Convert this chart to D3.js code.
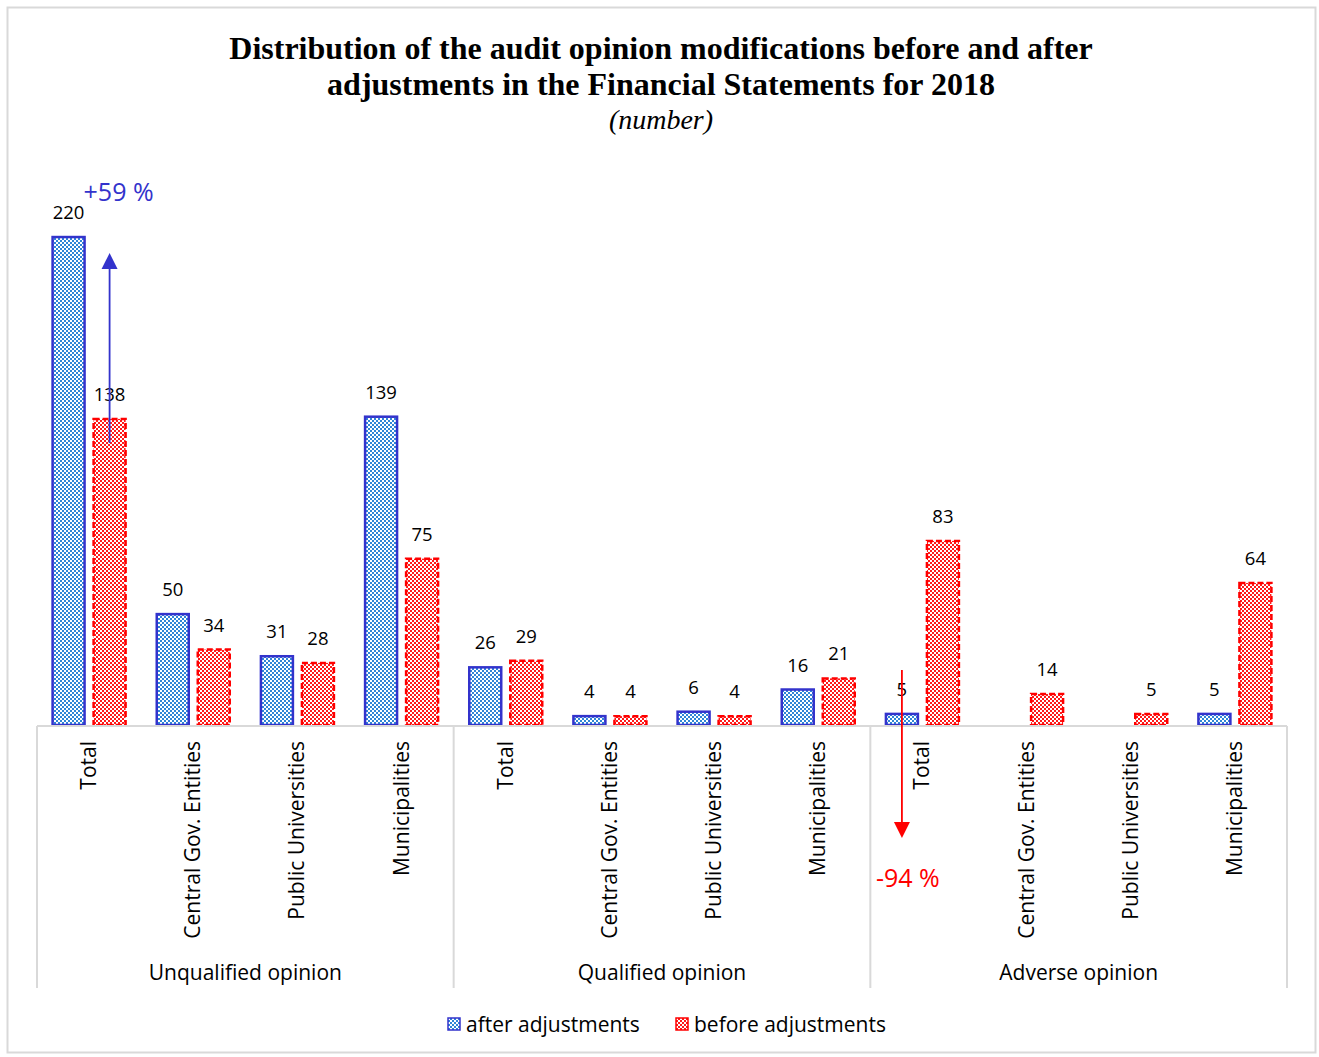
<!DOCTYPE html>
<html>
<head>
<meta charset="utf-8">
<script src="https://cdn.jsdelivr.net/npm/d3@7"></script>
<style>
  html, body { margin: 0; padding: 0; background: #fff; }
  svg { display: block; }
</style>
</head>
<body>
<svg id="chart" width="1319" height="1057"></svg>
<script>
// Audit opinion groups and entity categories
const groups = ["Unqualified opinion", "Qualified opinion", "Adverse opinion"];
const categories = ["Total", "Central Gov. Entities", "Public Universities", "Municipalities"];
const seriesNames = ["after adjustments", "before adjustments"];

// Values per group, in category order (null = no bar)
const afterUnqualified = [220, 50, 31, 139];
const afterQualified = [26, 4, 6, 16];
const afterAdverse = [5, null, null, 5];
const beforeUnqualified = [138, 34, 28, 75];
const beforeQualified = [29, 4, 4, 21];
const beforeAdverse = [83, 14, 5, 64];

const afterValues = [afterUnqualified, afterQualified, afterAdverse];
const beforeValues = [beforeUnqualified, beforeQualified, beforeAdverse];

// Change annotations on the "Total" columns
const changeNotes = [
  { group: 0, cat: 0, text: "+59 %", color: "#3333cc" },
  { group: 2, cat: 0, text: "-94 %", color: "#ff0000" }
];

const svg = d3.select("#chart");

// chart frame
svg.append("rect")
  .attr("x", 7.5).attr("y", 7.5).attr("width", 1308).attr("height", 1045)
  .attr("fill", "#fff").attr("stroke", "#d9d9d9").attr("stroke-width", 2);

// fill patterns
const defs = svg.append("defs");
function checker(id, color) {
  const p = defs.append("pattern").attr("id", id)
    .attr("patternUnits", "userSpaceOnUse").attr("width", 4).attr("height", 4);
  p.append("rect").attr("width", 4).attr("height", 4).attr("fill", "#fff");
  p.append("rect").attr("x", 0).attr("y", 0).attr("width", 2).attr("height", 2).attr("fill", color);
  p.append("rect").attr("x", 2).attr("y", 2).attr("width", 2).attr("height", 2).attr("fill", color);
}
checker("patAfter", "#2f86d6");
checker("patBefore", "#ff1a1a");

const styles = [
  { fill: "url(#patAfter)", stroke: "#3333cc", dash: null },
  { fill: "url(#patBefore)", stroke: "#ff0000", dash: "6,3" }
];

// layout
const left = 37, right = 1287, baseY = 725;
const y = d3.scaleLinear().domain([0, 250]).range([baseY, baseY - 250 * 2.218]);

const xGroup = d3.scaleBand().domain(d3.range(groups.length)).range([left, right]).padding(0);
const xCat = d3.scaleBand().domain(d3.range(categories.length)).range([0, xGroup.bandwidth()]).padding(0);
const xSeries = d3.scaleBand().domain([0, 1]).range([0, xCat.bandwidth()]).paddingInner(0.22).paddingOuter(0.38);

// title
const title = svg.append("g").attr("font-family", "'Liberation Serif', 'Times New Roman', serif").attr("fill", "#000");
title.append("text").attr("x", 661).attr("y", 59).attr("text-anchor", "middle")
  .attr("font-size", 32).attr("font-weight", "bold")
  .text("Distribution of the audit opinion modifications before and after");
title.append("text").attr("x", 661).attr("y", 95).attr("text-anchor", "middle")
  .attr("font-size", 32).attr("font-weight", "bold")
  .text("adjustments in the Financial Statements for 2018");
title.append("text").attr("x", 661).attr("y", 129).attr("text-anchor", "middle")
  .attr("font-size", 28).attr("font-style", "italic")
  .text("(number)");

const font = "'Open Sans', 'DejaVu Sans', sans-serif";

// bars
const rows = [];
groups.forEach((g, gi) => {
  categories.forEach((c, ci) => {
    [afterValues, beforeValues].forEach((vals, si) => {
      const v = vals[gi][ci];
      if (v == null) return;
      rows.push({ gi, ci, si, v, x: xGroup(gi) + xCat(ci) + xSeries(si) });
    });
  });
});

const barG = svg.append("g");
barG.selectAll("rect").data(rows).join("rect")
  .attr("x", d => d.x)
  .attr("y", d => y(d.v))
  .attr("width", xSeries.bandwidth())
  .attr("height", d => y(0) - y(d.v))
  .attr("fill", d => styles[d.si].fill)
  .attr("stroke", d => styles[d.si].stroke)
  .attr("stroke-width", 2.5)
  .attr("stroke-dasharray", d => styles[d.si].dash);

// value labels
svg.append("g").selectAll("text").data(rows).join("text")
  .attr("x", d => d.x + xSeries.bandwidth() / 2)
  .attr("y", d => y(d.v) - 18)
  .attr("text-anchor", "middle")
  .attr("font-family", font).attr("font-size", 18.5).attr("fill", "#000")
  .text(d => d.v);

// axis lines
const axisG = svg.append("g").attr("stroke", "#d9d9d9").attr("stroke-width", 2);
axisG.append("line").attr("x1", left).attr("x2", right).attr("y1", baseY + 1).attr("y2", baseY + 1);
d3.range(groups.length + 1).forEach(i => {
  const xx = i < groups.length ? xGroup(i) : right;
  axisG.append("line").attr("x1", xx).attr("x2", xx).attr("y1", baseY + 1).attr("y2", 988);
});

// category labels (rotated) and group labels
const catG = svg.append("g").attr("font-family", font).attr("font-size", 21).attr("fill", "#000");
groups.forEach((g, gi) => {
  categories.forEach((c, ci) => {
    const cx = xGroup(gi) + xCat(ci) + xCat.bandwidth() / 2;
    catG.append("text")
      .attr("transform", `translate(${cx + 7},${baseY + 16}) rotate(-90)`)
      .attr("text-anchor", "end")
      .text(c);
  });
  catG.append("text")
    .attr("x", xGroup(gi) + xGroup.bandwidth() / 2)
    .attr("y", 980)
    .attr("text-anchor", "middle")
    .text(g);
});

// growth arrow: from the before bar up towards the after value
{
  const n = changeNotes[0];
  const ax = xGroup(n.group) + xCat(n.cat) + xSeries(1) + xSeries.bandwidth() / 2;
  const from = beforeValues[n.group][n.cat];
  const to = afterValues[n.group][n.cat];
  svg.append("line")
    .attr("x1", ax).attr("x2", ax)
    .attr("y1", y(from) + 24).attr("y2", y(to) + 28)
    .attr("stroke", n.color).attr("stroke-width", 1.8);
  svg.append("path")
    .attr("d", `M${ax},${y(to) + 16} l-8,16 l16,0 Z`).attr("fill", n.color);
  svg.append("text").attr("x", ax - 26).attr("y", y(to) - 36)
    .attr("font-family", font).attr("font-size", 25).attr("fill", n.color)
    .text(n.text);
}
// drop arrow: through the after bar downwards
{
  const n = changeNotes[1];
  const ax = xGroup(n.group) + xCat(n.cat) + xSeries(0) + xSeries.bandwidth() / 2;
  const to = afterValues[n.group][n.cat];
  const top = y(to) - 44, bottom = y(0) + 113;
  svg.append("line")
    .attr("x1", ax).attr("x2", ax)
    .attr("y1", top).attr("y2", bottom - 12)
    .attr("stroke", n.color).attr("stroke-width", 1.8);
  svg.append("path")
    .attr("d", `M${ax},${bottom} l-8,-16 l16,0 Z`).attr("fill", n.color);
  svg.append("text").attr("x", ax - 26).attr("y", bottom + 49)
    .attr("font-family", font).attr("font-size", 25).attr("fill", n.color)
    .text(n.text);
}

// legend
const legend = svg.append("g").attr("font-family", font).attr("font-size", 21).attr("fill", "#000");
const legendX = [447, 675];
seriesNames.forEach((s, i) => {
  legend.append("rect").attr("x", legendX[i] + 1).attr("y", 1018).attr("width", 12).attr("height", 12)
    .attr("fill", styles[i].fill).attr("stroke", styles[i].stroke).attr("stroke-width", 1.5);
  legend.append("text").attr("x", legendX[i] + 19).attr("y", 1032).text(s);
});
</script>
</body>
</html>
